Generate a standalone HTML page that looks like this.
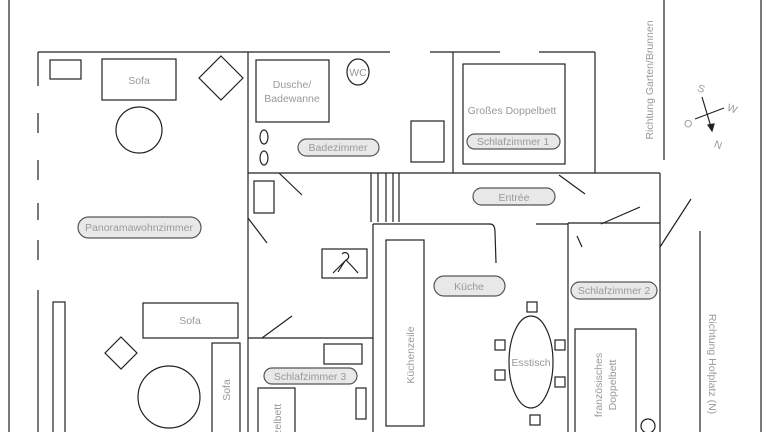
<!DOCTYPE html><html><head><style>body{margin:0;background:#fff}svg{display:block}text{font-family:"Liberation Sans",sans-serif;fill:#999;font-size:10.5px}</style></head><body>
<svg width="768" height="432" viewBox="0 0 768 432" fill="none" stroke="#222" stroke-width="1.2">
<line x1="9" y1="0" x2="9" y2="432"/><line x1="761" y1="0" x2="761" y2="432"/><line x1="664" y1="0" x2="664" y2="160"/>
<line x1="700" y1="231" x2="700" y2="432"/>
<line x1="38" y1="52" x2="248" y2="52"/>
<path d="M38 52V86M38 113V133M38 160V180M38 203V220M38 240V260M38 290V432"/>
<line x1="248" y1="52" x2="248" y2="432"/>
<rect x="50" y="60" width="31" height="19"/><rect x="102" y="59" width="74" height="41"/>
<path d="M221 56L243 78L221 100L199 78Z"/><circle cx="139" cy="130" r="23"/>
<rect x="143" y="303" width="95" height="35"/><rect x="212" y="343" width="28" height="95"/>
<path d="M121 337L137 353L121 369L105 353Z"/><circle cx="169" cy="397" r="31"/>
<rect x="53" y="302" width="12" height="135"/>
<line x1="248" y1="52" x2="390" y2="52"/><line x1="430" y1="52" x2="500" y2="52"/><line x1="539" y1="52" x2="595" y2="52"/>
<line x1="453" y1="52" x2="453" y2="173"/><line x1="595" y1="52" x2="595" y2="173"/>
<rect x="256" y="60" width="73" height="62"/><ellipse cx="358" cy="72" rx="11" ry="13"/>
<ellipse cx="264" cy="137" rx="4" ry="7"/><ellipse cx="264" cy="158" rx="4" ry="7"/>
<rect x="411" y="121" width="33" height="41"/>
<rect x="463" y="64" width="102" height="100"/>
<line x1="248" y1="173" x2="660" y2="173"/>
<line x1="279" y1="173" x2="302" y2="195"/><line x1="559" y1="175" x2="585" y2="194"/>
<path d="M371 173V222M378 173V222M386 173V222M393 173V222M399 173V222"/>
<rect x="254" y="181" width="20" height="32"/><line x1="248" y1="218" x2="267" y2="243"/>
<rect x="322" y="249" width="45" height="29"/>
<path d="M338 272 Q344 262 346 260 Q350 258 348 254 Q345 251 342 254 M346 260 Q352 266 358 273 M346 260 Q340 266 333 273"/>
<path d="M373 224H490Q495 224 495 232L496 263"/><line x1="373" y1="224" x2="373" y2="432"/>
<rect x="386" y="240" width="38" height="186"/>
<ellipse cx="531" cy="362" rx="22" ry="46"/>
<rect x="527" y="302" width="10" height="10"/><rect x="495" y="340" width="10" height="10"/><rect x="495" y="370" width="10" height="10"/>
<rect x="555" y="340" width="10" height="10"/><rect x="555" y="377" width="10" height="10"/><rect x="530" y="415" width="10" height="10"/>
<line x1="536" y1="224" x2="568" y2="224"/><line x1="568" y1="223" x2="660" y2="223"/>
<line x1="568" y1="223" x2="568" y2="432"/><line x1="660" y1="173" x2="660" y2="432"/>
<line x1="601" y1="224" x2="640" y2="207"/><line x1="660" y1="247" x2="691" y2="199"/><line x1="577" y1="236" x2="582" y2="247"/>
<rect x="575" y="329" width="61" height="110"/><circle cx="648" cy="426" r="7"/>
<line x1="248" y1="338" x2="373" y2="338"/><line x1="262" y1="338" x2="292" y2="316"/>
<rect x="324" y="344" width="38" height="20"/><rect x="258" y="388" width="37" height="50"/><rect x="356" y="388" width="10" height="31"/>
<line x1="702" y1="97" x2="711" y2="127"/><path d="M708 125L712 131L714 124Z" fill="#222"/>
<line x1="695" y1="119" x2="724" y2="108"/>
<g fill="#e8e8e8" stroke="#555">
<rect x="298" y="139" width="81" height="17" rx="8.5"/><rect x="467" y="134" width="93" height="15" rx="7.5"/>
<rect x="473" y="188" width="82" height="17" rx="8.5"/><rect x="78" y="217" width="123" height="21" rx="10.5"/>
<rect x="434" y="276" width="71" height="20" rx="10"/><rect x="571" y="282" width="86" height="17" rx="8.5"/>
<rect x="264" y="368" width="93" height="16" rx="8"/></g>
<g stroke="none">
<text x="139" y="84" text-anchor="middle">Sofa</text>
<text x="292" y="88" text-anchor="middle">Dusche/</text><text x="292" y="102" text-anchor="middle">Badewanne</text>
<text x="358" y="76" text-anchor="middle">WC</text>
<text x="338" y="151" text-anchor="middle">Badezimmer</text>
<text x="512" y="114" text-anchor="middle">Großes Doppelbett</text>
<text x="513" y="145" text-anchor="middle">Schlafzimmer 1</text>
<text x="514" y="201" text-anchor="middle">Entrée</text>
<text x="139" y="231" text-anchor="middle">Panoramawohnzimmer</text>
<text x="190" y="324" text-anchor="middle">Sofa</text>
<text x="469" y="290" text-anchor="middle">Küche</text>
<text x="614" y="294" text-anchor="middle">Schlafzimmer 2</text>
<text x="310" y="380" text-anchor="middle">Schlafzimmer 3</text>
<text x="531" y="366" text-anchor="middle">Esstisch</text>
<text transform="translate(230,390) rotate(-90)" text-anchor="middle">Sofa</text>
<text transform="translate(414,355) rotate(-90)" text-anchor="middle">Küchenzeile</text>
<text transform="translate(281,450) rotate(-90)" text-anchor="start">Einzelbett</text>
<text transform="translate(602,385) rotate(-90)" text-anchor="middle">französisches</text>
<text transform="translate(616,385) rotate(-90)" text-anchor="middle">Doppelbett</text>
<text transform="translate(653,80) rotate(-90)" text-anchor="middle">Richtung Garten/Brunnen</text>
<text transform="translate(709,364) rotate(90)" text-anchor="middle">Richtung Hofplatz (N)</text>
<text transform="translate(700,92) rotate(20)" text-anchor="middle">S</text>
<text transform="translate(731,112) rotate(20)" text-anchor="middle">W</text>
<text transform="translate(687,127) rotate(20)" text-anchor="middle">O</text>
<text transform="translate(717,148) rotate(20)" text-anchor="middle">N</text>
</g></svg></body></html>
